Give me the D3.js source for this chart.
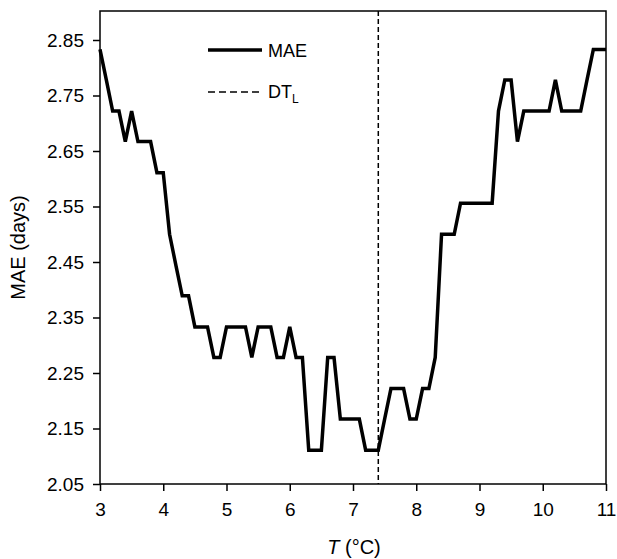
<!DOCTYPE html>
<html>
<head>
<meta charset="utf-8">
<script src="https://cdn.jsdelivr.net/npm/d3@7"></script>
<style>
  html, body { margin: 0; padding: 0; background: #fff; }
  text { font-family: "Liberation Sans", Arial, sans-serif; fill: #000; }
</style>
</head>
<body>
<svg id="chart" width="617" height="559"></svg>
<script>
// ---- data ----
const temps = [3.0,3.1,3.2,3.3,3.4,3.5,3.6,3.7,3.8,3.9,4.0,4.1,4.2,4.3,4.4,4.5,4.6,4.7,4.8,4.9,
  5.0,5.1,5.2,5.3,5.4,5.5,5.6,5.7,5.8,5.9,6.0,6.1,6.2,6.3,6.4,6.5,6.6,6.7,6.8,6.9,
  7.0,7.1,7.2,7.3,7.4,7.5,7.6,7.7,7.8,7.9,8.0,8.1,8.2,8.3,8.4,8.5,8.6,8.7,8.8,8.9,
  9.0,9.1,9.2,9.3,9.4,9.5,9.6,9.7,9.8,9.9,10.0,10.1,10.2,10.3,10.4,10.5,10.6,10.7,10.8,10.9,11.0];
const mae = [2.833,2.778,2.722,2.722,2.667,2.722,2.667,2.667,2.667,2.611,2.611,2.5,2.444,2.389,2.389,2.333,2.333,2.333,2.278,2.278,
  2.333,2.333,2.333,2.333,2.278,2.333,2.333,2.333,2.278,2.278,2.333,2.278,2.278,2.111,2.111,2.111,2.278,2.278,2.167,2.167,
  2.167,2.167,2.111,2.111,2.111,2.167,2.222,2.222,2.222,2.167,2.167,2.222,2.222,2.278,2.5,2.5,2.5,2.556,2.556,2.556,
  2.556,2.556,2.556,2.722,2.778,2.778,2.667,2.722,2.722,2.722,2.722,2.722,2.778,2.722,2.722,2.722,2.722,2.778,2.833,2.833,2.833];
const dtL = 7.4;
const xTicks = [3,4,5,6,7,8,9,10,11];
const yTicks = [2.05,2.15,2.25,2.35,2.45,2.55,2.65,2.75,2.85];
const legendLabels = ["MAE", "DT"];

// ---- layout ----
const svg = d3.select("#chart");
const pLeft = 100, pRight = 606, pTop = 11, pBottom = 484;
const x = d3.scaleLinear().domain([3, 11]).range([pLeft, pRight]);
const y = d3.scaleLinear().domain([2.05, 2.85]).range([pBottom, 40]);

// axes
const xAxis = d3.axisBottom(x).tickValues(xTicks).tickSize(7).tickSizeOuter(0).tickFormat(d3.format("d"));
const yAxis = d3.axisLeft(y).tickValues(yTicks).tickSize(7).tickSizeOuter(0).tickFormat(d3.format(".2f"));

const gx = svg.append("g").attr("transform", `translate(0,${pBottom})`).call(xAxis);
const gy = svg.append("g").attr("transform", `translate(${pLeft},0)`).call(yAxis);
[gx, gy].forEach(g => {
  g.select(".domain").remove();
  g.selectAll(".tick line").attr("stroke", "#000").attr("stroke-width", 1.5);
  g.selectAll(".tick text").style("font-size", "19px").attr("fill", "#000");
});
gx.selectAll(".tick text").attr("dy", "0.71em").attr("y", 19);
gy.selectAll(".tick text").attr("x", -16);

// frame
svg.append("rect")
  .attr("x", pLeft).attr("y", pTop)
  .attr("width", pRight - pLeft).attr("height", pBottom - pTop)
  .attr("fill", "none").attr("stroke", "#000").attr("stroke-width", 1.5);

// DT_L line
svg.append("line")
  .attr("x1", x(dtL)).attr("x2", x(dtL))
  .attr("y1", pTop).attr("y2", pBottom)
  .attr("stroke", "#000").attr("stroke-width", 1.5)
  .attr("stroke-dasharray", "5,3");

// MAE line
const line = d3.line().x((d, i) => x(temps[i])).y(d => y(d));
svg.append("path")
  .datum(mae)
  .attr("d", line)
  .attr("fill", "none")
  .attr("stroke", "#000")
  .attr("stroke-width", 3.5)
  .attr("stroke-linejoin", "miter");

// legend
const lg = svg.append("g");
lg.append("line").attr("x1", 208).attr("x2", 262).attr("y1", 50).attr("y2", 50)
  .attr("stroke", "#000").attr("stroke-width", 3.5);
lg.append("text").attr("x", 268).attr("y", 57).style("font-size", "18px").text(legendLabels[0]);
lg.append("line").attr("x1", 208).attr("x2", 262).attr("y1", 92).attr("y2", 92)
  .attr("stroke", "#000").attr("stroke-width", 1.5).attr("stroke-dasharray", "7,4");
const dt = lg.append("text").attr("x", 268).attr("y", 98).style("font-size", "18px");
dt.append("tspan").text(legendLabels[1]);
dt.append("tspan").attr("dy", 5).style("font-size", "12px").text("L");

// axis titles
const xt = svg.append("text").attr("x", 354).attr("y", 554)
  .attr("text-anchor", "middle").style("font-size", "20px");
xt.append("tspan").style("font-style", "italic").text("T");
xt.append("tspan").text(" (°C)");

svg.append("text")
  .attr("transform", `translate(25,${(pTop + pBottom) / 2}) rotate(-90)`)
  .attr("text-anchor", "middle").style("font-size", "20px")
  .text("MAE (days)");
</script>
</body>
</html>
